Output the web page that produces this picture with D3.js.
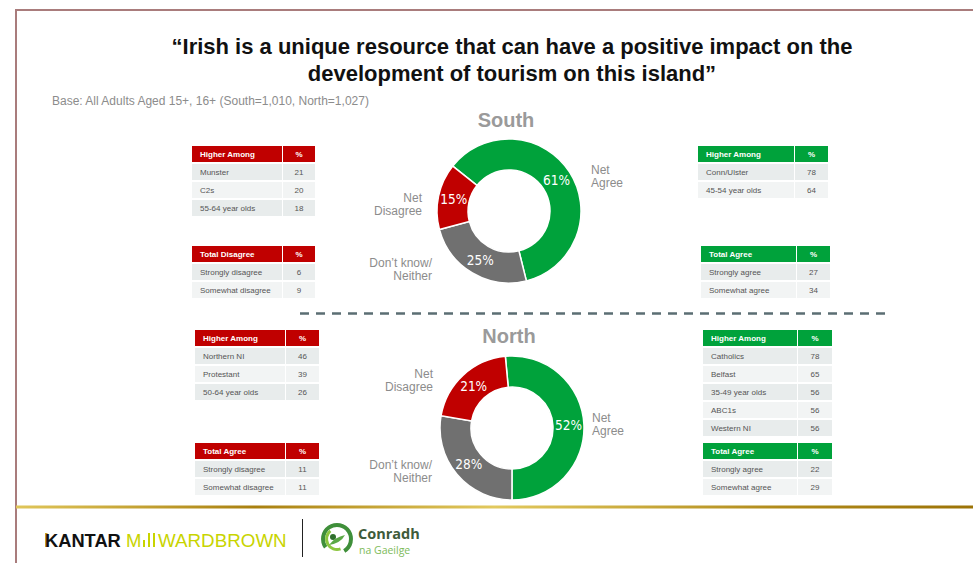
<!DOCTYPE html>
<html>
<head>
<meta charset="utf-8">
<script src="https://cdn.jsdelivr.net/npm/d3@7"></script>
<style>
  html, body { margin: 0; padding: 0; background: #fff; }
  svg { display: block; font-family: "Liberation Sans", Arial, sans-serif; }
</style>
</head>
<body>
<svg id="chart" width="973" height="563"></svg>
<script>
// ---- Data ----
const titleLines = [
  "\u201CIrish is a unique resource that can have a positive impact on the",
  "development of tourism on this island\u201D"
];
const baseNote = "Base: All Adults Aged 15+, 16+ (South=1,010, North=1,027)";

const sliceCategories = ["Net Agree", "Don\u2019t know/ Neither", "Net Disagree"];
const southValues = [61, 25, 15];
const northValues = [52, 28, 21];

const southHigherDisagree = [["Munster", 21], ["C2s", 20], ["55-64 year olds", 18]];
const southTotalDisagree = [["Strongly disagree", 6], ["Somewhat disagree", 9]];
const southHigherAgree = [["Conn/Ulster", 78], ["45-54 year olds", 64]];
const southTotalAgree = [["Strongly agree", 27], ["Somewhat agree", 34]];

const northHigherDisagree = [["Northern NI", 46], ["Protestant", 39], ["50-64 year olds", 26]];
const northTotalDisagree = [["Strongly disagree", 11], ["Somewhat disagree", 11]];
const northHigherAgree = [["Catholics", 78], ["Belfast", 65], ["35-49 year olds", 56], ["ABC1s", 56], ["Western NI", 56]];
const northTotalAgree = [["Strongly agree", 22], ["Somewhat agree", 29]];

// ---- Styling ----
const colors = { agree: "#00a23b", neutral: "#707070", disagree: "#c00000" };
const sliceColor = d3.scaleOrdinal().domain(sliceCategories)
  .range([colors.agree, colors.neutral, colors.disagree]);

const svg = d3.select("#chart");

// frame lines
svg.append("line").attr("x1", 15).attr("x2", 973).attr("y1", 10).attr("y2", 10)
  .attr("stroke", "#a97c7c").attr("stroke-width", 2);
svg.append("line").attr("x1", 16).attr("x2", 16).attr("y1", 9).attr("y2", 563)
  .attr("stroke", "#a97c7c").attr("stroke-width", 2);

// gold footer rule
const defs = svg.append("defs");
const gold = defs.append("linearGradient").attr("id", "gold").attr("x1", "0%").attr("x2", "100%");
[["0%", "#e0c65a"], ["25%", "#a9800f"], ["50%", "#e2c95e"], ["80%", "#b08a1a"], ["100%", "#9c7306"]]
  .forEach(([o, c]) => gold.append("stop").attr("offset", o).attr("stop-color", c));
svg.append("rect").attr("x", 16).attr("y", 505.5).attr("width", 957).attr("height", 3)
  .attr("fill", "url(#gold)");

// title
svg.append("g").selectAll("text").data(titleLines).join("text")
  .attr("x", 512).attr("y", (d, i) => 54 + i * 27)
  .attr("text-anchor", "middle").attr("font-size", 22).attr("font-weight", "bold")
  .attr("fill", "#111").text(d => d);

svg.append("text").attr("x", 52).attr("y", 105).attr("font-size", 12)
  .attr("fill", "#8c8c8c").text(baseNote);

// dashed divider
svg.append("line").attr("x1", 300).attr("x2", 886).attr("y1", 313.5).attr("y2", 313.5)
  .attr("stroke", "#5b6e73").attr("stroke-width", 2.5).attr("stroke-dasharray", "9 7");

// ---- Donuts ----
const inner = 41, outer = 72;
const arc = d3.arc().innerRadius(inner).outerRadius(outer);

function donut(cfg) {
  const pie = d3.pie().sort(null).value(d => d.v)
    .startAngle(cfg.start).endAngle(cfg.start + 2 * Math.PI);
  const data = pie(cfg.values.map((v, i) => ({ k: sliceCategories[i], v })));
  const g = svg.append("g").attr("transform", `translate(${cfg.cx},${cfg.cy})`);
  g.selectAll("path").data(data).join("path")
    .attr("d", arc).attr("fill", d => sliceColor(d.data.k))
    .attr("stroke", "#fff").attr("stroke-width", 1.5);
  g.selectAll("text.pct").data(data).join("text").attr("class", "pct")
    .attr("transform", d => `translate(${arc.centroid(d)})`)
    .attr("text-anchor", "middle").attr("dy", "0.36em")
    .attr("font-family", "'DejaVu Sans', sans-serif").attr("font-stretch", "condensed")
    .attr("font-size", 13.5).attr("fill", "#fff")
    .text(d => d.data.v + "%");
  svg.append("text").attr("x", cfg.cx - 3).attr("y", cfg.titleY)
    .attr("text-anchor", "middle").attr("font-size", 20).attr("font-weight", "bold")
    .attr("fill", "#9a9a9a").text(cfg.title);
  cfg.labels.forEach(l => {
    const t = svg.append("text").attr("x", l.x).attr("y", l.y)
      .attr("text-anchor", l.anchor).attr("font-size", 12).attr("fill", "#8c8c8c");
    l.lines.forEach((s, i) => t.append("tspan").attr("x", l.x).attr("dy", i ? 13 : 0).text(s));
  });
}

donut({
  title: "South", titleY: 127, cx: 509, cy: 211, values: southValues,
  start: -51.4 * Math.PI / 180,
  labels: [
    { lines: ["Net", "Agree"], x: 591, y: 174, anchor: "start" },
    { lines: ["Net", "Disagree"], x: 422, y: 202, anchor: "end" },
    { lines: ["Don\u2019t know/", "Neither"], x: 432, y: 267, anchor: "end" }
  ]
});
donut({
  title: "North", titleY: 343, cx: 512, cy: 428, values: northValues,
  start: -5.3 * Math.PI / 180,
  labels: [
    { lines: ["Net", "Agree"], x: 592, y: 422, anchor: "start" },
    { lines: ["Net", "Disagree"], x: 433, y: 378, anchor: "end" },
    { lines: ["Don\u2019t know/", "Neither"], x: 432, y: 469, anchor: "end" }
  ]
});

// ---- Tables ----
function table(x, y, w1, w2, header, rows, color) {
  const g = svg.append("g").attr("transform", `translate(${x},${y})`);
  const rh = 16, gap = 2;
  g.append("rect").attr("width", w1).attr("height", rh).attr("fill", color);
  g.append("rect").attr("x", w1 + 1).attr("width", w2).attr("height", rh).attr("fill", color);
  g.append("text").attr("x", 8).attr("y", rh / 2).attr("dy", "0.35em")
    .attr("font-size", 8).attr("font-weight", "bold").attr("fill", "#fff").text(header);
  g.append("text").attr("x", w1 + 1 + w2 / 2).attr("y", rh / 2).attr("dy", "0.35em")
    .attr("text-anchor", "middle").attr("font-size", 8).attr("font-weight", "bold")
    .attr("fill", "#fff").text("%");
  const r = g.selectAll("g.row").data(rows).join("g").attr("class", "row")
    .attr("transform", (d, i) => `translate(0,${(rh + gap) * (i + 1)})`);
  r.append("rect").attr("width", w1).attr("height", rh)
    .attr("fill", (d, i) => i % 2 ? "#f2f4f4" : "#e8ecec");
  r.append("rect").attr("x", w1 + 1).attr("width", w2).attr("height", rh)
    .attr("fill", (d, i) => i % 2 ? "#f2f4f4" : "#e8ecec");
  r.append("text").attr("x", 8).attr("y", rh / 2).attr("dy", "0.35em")
    .attr("font-size", 8).attr("fill", "#555").text(d => d[0]);
  r.append("text").attr("x", w1 + 1 + w2 / 2).attr("y", rh / 2).attr("dy", "0.35em")
    .attr("text-anchor", "middle").attr("font-size", 8).attr("fill", "#555").text(d => d[1]);
}

table(192, 146, 90, 32, "Higher Among", southHigherDisagree, colors.disagree);
table(192, 246, 90, 32, "Total Disagree", southTotalDisagree, colors.disagree);
table(698, 146, 96, 33, "Higher Among", southHigherAgree, colors.agree);
table(701, 246, 95, 33, "Total Agree", southTotalAgree, colors.agree);
table(195, 330, 90, 33, "Higher Among", northHigherDisagree, colors.disagree);
table(195, 443, 90, 33, "Total Agree", northTotalDisagree, colors.disagree);
table(703, 330, 94, 34, "Higher Among", northHigherAgree, colors.agree);
table(703, 443, 94, 34, "Total Agree", northTotalAgree, colors.agree);

// ---- Footer logos ----
const foot = svg.append("g");
foot.append("rect").attr("x", 45).attr("y", 533).attr("width", 2.5).attr("height", 14).attr("fill", "#c9a227");
foot.append("text").attr("x", 45).attr("y", 547).attr("font-size", 18.3).attr("font-weight", "bold")
  .attr("fill", "#111").text("KANTAR");
foot.append("text").attr("x", 126).attr("y", 547).attr("font-size", 18.5)
  .attr("fill", "#c8d400").text("M");
[143, 148, 153].forEach((bx, i) => foot.append("rect").attr("x", bx).attr("y", i === 0 ? 540 : 533)
  .attr("width", 2).attr("height", i === 0 ? 7 : 14).attr("fill", "#c8d400"));
foot.append("text").attr("x", 158).attr("y", 547).attr("font-size", 18.8)
  .attr("fill", "#c8d400").text("WARDBROWN");
foot.append("line").attr("x1", 302.5).attr("x2", 302.5).attr("y1", 519).attr("y2", 557)
  .attr("stroke", "#222").attr("stroke-width", 1);

// Conradh na Gaeilge mark
const mark = foot.append("g").attr("transform", "translate(337,539)");
mark.append("path").attr("d", d3.arc()({ innerRadius: 12, outerRadius: 16, startAngle: -2.2, endAngle: 2.6 }))
  .attr("fill", "#3f8f3a");
mark.append("path").attr("d", d3.arc()({ innerRadius: 9, outerRadius: 12, startAngle: 2.8, endAngle: 5.6 }))
  .attr("fill", "#8cc63f");
mark.append("circle").attr("cx", -4).attr("cy", -2).attr("r", 3).attr("fill", "#2f6f2c");
mark.append("path").attr("d", "M-8,6 Q-2,-2 8,-4 Q4,4 -8,6Z").attr("fill", "#5aa845");
foot.append("text").attr("x", 358).attr("y", 539).attr("font-size", 14.5).attr("font-weight", "bold")
  .attr("font-family", "'Open Sans', sans-serif").attr("fill", "#3e5b3a").text("Conradh");
foot.append("text").attr("x", 359).attr("y", 554).attr("font-size", 10.5)
  .attr("font-family", "'Open Sans', sans-serif").attr("fill", "#7dbb5a").text("na Gaeilge");
</script>
</body>
</html>
